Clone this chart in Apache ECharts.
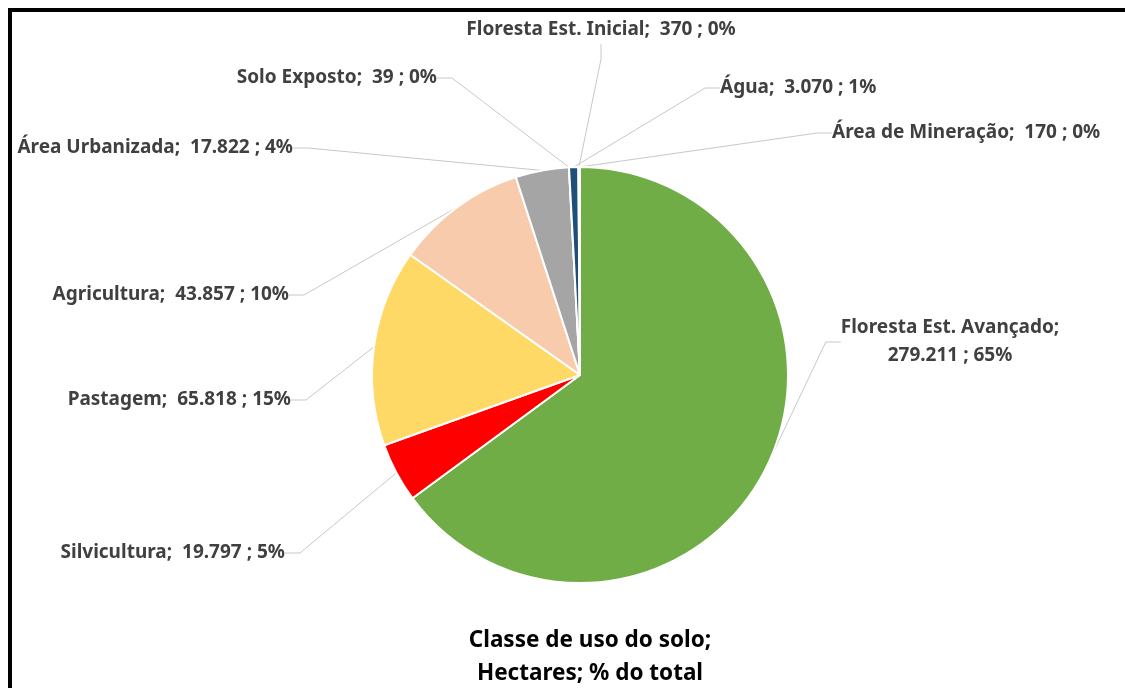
<!DOCTYPE html>
<html>
<head>
<meta charset="utf-8">
<script src="https://cdn.jsdelivr.net/npm/echarts@6/dist/echarts.min.js"></script>
<style>
    html, body { margin: 0; padding: 0; background: #fff; }
    #chart { width: 1125px; height: 688px; }
</style>
</head>
<body>
<div id="chart"></div>
<script>
// dados - classe de uso do solo (hectares)
var categories = ['Floresta Est. Avançado', 'Silvicultura', 'Pastagem', 'Agricultura', 'Área Urbanizada',
    'Solo Exposto', 'Água', 'Floresta Est. Inicial', 'Área de Mineração'];
var hectares = [279211, 19797, 65818, 43857, 17822, 39, 3070, 370, 170];
var colors = ['#70ad47', '#ff0000', '#ffd966', '#f8cbad', '#a5a5a5', '#c55a11', '#1f4e79', '#a9d18e', '#7f7f7f'];

// posição dos rótulos (como no gráfico original)
var labelPos = [
    { x: 950, y: 342, align: 'center' },
    { x: 285, y: 553, align: 'right' },
    { x: 291, y: 400, align: 'right' },
    { x: 289, y: 295, align: 'right' },
    { x: 293, y: 148, align: 'right' },
    { x: 437, y: 78,  align: 'right' },
    { x: 720, y: 88,  align: 'left' },
    { x: 601, y: 30,  align: 'center' },
    { x: 832, y: 133, align: 'left' }
];

function milhar(v) {
    return String(v).replace(/\B(?=(\d{3})+(?!\d))/g, '.');
}

var pieData = categories.map(function (name, i) {
    return { name: name, value: hectares[i], itemStyle: { color: colors[i] } };
});

var chart = echarts.init(document.getElementById('chart'));
chart.setOption({
    backgroundColor: '#fff',
    animation: false,
    title: {
        text: 'Classe de uso do solo;\nHectares; % do total',
        left: 585,
        textAlign: 'center',
        top: 619,
        textStyle: {
            fontFamily: 'Noto Sans',
            fontSize: 22.5,
            fontWeight: 'bold',
            color: '#000',
            lineHeight: 33
        }
    },
    graphic: [{
        type: 'rect',
        shape: { x: 10, y: 10, width: 1300, height: 900 },
        style: { fill: 'none', stroke: '#000', lineWidth: 4 },
        silent: true
    }],
    series: [{
        type: 'pie',
        center: [580, 375],
        radius: 208,
        startAngle: 90,
        clockwise: true,
        avoidLabelOverlap: false,
        data: pieData,
        itemStyle: { borderColor: '#fff', borderWidth: 2 },
        label: {
            show: true,
            position: 'outer',
            fontFamily: 'Noto Sans',
            fontSize: 19,
            fontWeight: 'bold',
            color: '#404040',
            lineHeight: 28,
            formatter: function (p) {
                var t = milhar(p.value) + ' ; ' + Math.round(p.percent) + '%';
                if (p.dataIndex === 0) return p.name + ';\n' + t;
                return p.name + ';  ' + t;
            }
        },
        labelLine: {
            show: true,
            length: 20,
            length2: 15,
            lineStyle: { color: '#c8c8c8', width: 1 }
        },
        labelLayout: function (params) {
            var lp = labelPos[params.dataIndex];
            return {
                x: lp.x,
                y: lp.y,
                align: lp.align,
                verticalAlign: 'middle'
            };
        }
    }]
});
</script>
</body>
</html>
